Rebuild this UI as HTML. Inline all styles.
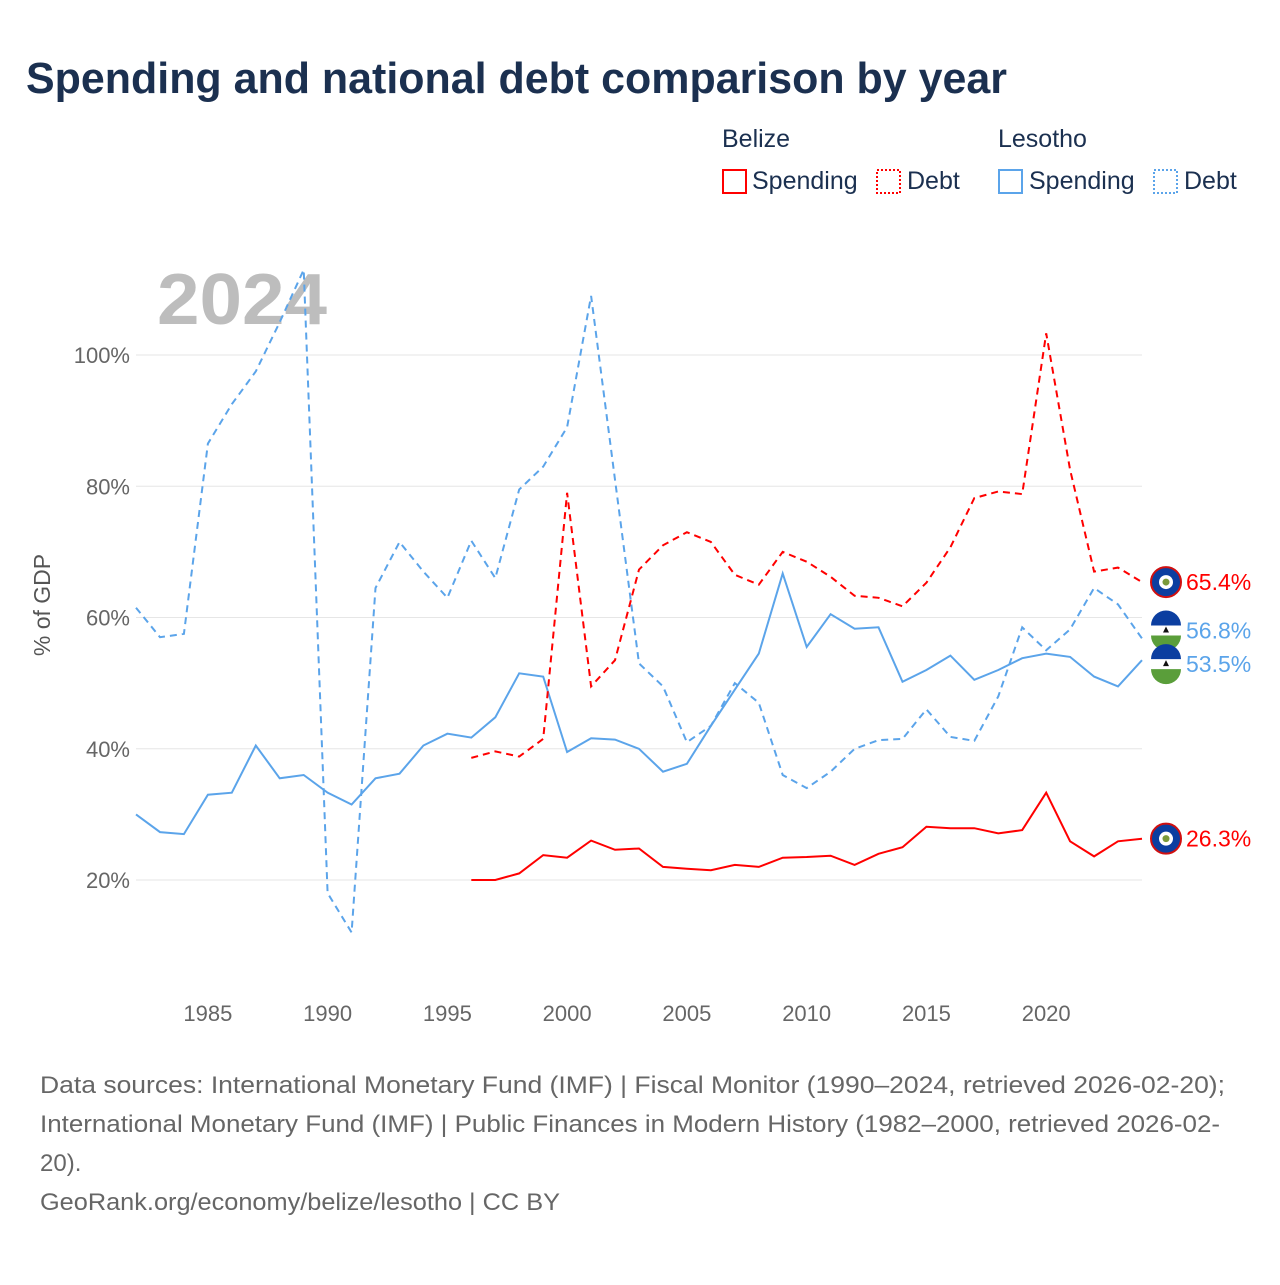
<!DOCTYPE html>
<html><head><meta charset="utf-8"><style>
body{margin:0;background:#fff;font-family:"Liberation Sans",sans-serif;}
svg text{font-family:"Liberation Sans",sans-serif;}
</style></head><body>
<svg id="chart" width="1280" height="1280" viewBox="0 0 1280 1280">
<text x="26" y="93" font-size="44" font-weight="bold" fill="#1b3050" textLength="981" lengthAdjust="spacingAndGlyphs">Spending and national debt comparison by year</text>
<g font-size="25" fill="#1b3050">
<text x="722" y="147">Belize</text>
<text x="998" y="147">Lesotho</text>
<g><rect x="723" y="170" width="23" height="23" fill="none" stroke="#f00" stroke-width="2"/><text x="752" y="189">Spending</text></g>
<g><rect x="877" y="170" width="23" height="23" fill="none" stroke="#f00" stroke-width="2" stroke-dasharray="2,2"/><text x="907" y="189">Debt</text></g>
<g><rect x="999" y="170" width="23" height="23" fill="none" stroke="#5ba4ea" stroke-width="2"/><text x="1029" y="189">Spending</text></g>
<g><rect x="1154" y="170" width="23" height="23" fill="none" stroke="#5ba4ea" stroke-width="2" stroke-dasharray="2,2"/><text x="1184" y="189">Debt</text></g>
</g>
<text x="157" y="324" font-size="72" font-weight="bold" fill="#bdbdbd" textLength="170" lengthAdjust="spacingAndGlyphs">2024</text>
<g id="grid"></g><g id="series"></g><g id="labels"></g>
<text transform="translate(50,605) rotate(-90)" text-anchor="middle" font-size="23" fill="#555">% of GDP</text>
<g font-size="24" fill="#666">
<text x="40" y="1093" textLength="1185" lengthAdjust="spacingAndGlyphs">Data sources: International Monetary Fund (IMF) | Fiscal Monitor (1990–2024, retrieved 2026-02-20);</text>
<text x="40" y="1132" textLength="1180" lengthAdjust="spacingAndGlyphs">International Monetary Fund (IMF) | Public Finances in Modern History (1982–2000, retrieved 2026-02-</text>
<text x="40" y="1171">20).</text>
<text x="40" y="1210" textLength="520" lengthAdjust="spacingAndGlyphs">GeoRank.org/economy/belize/lesotho | CC BY</text>
</g>
</svg>
<script>
const yTicks=[20,40,60,80,100];
const xTicks=[1985,1990,1995,2000,2005,2010,2015,2020];
const lesothoDebtStart=1982;
const lesothoDebt=[61.5,57,57.5,86.5,92.5,97.5,105,113,18,12,64.5,71.5,67,63,71.7,66,79.5,83,89,109,81,53,49.5,41,43.5,50,47,36,34,36.5,40,41.3,41.5,46,41.8,41.2,48,58.5,55,58.2,64.5,62,56.8];
const lesothoSpendStart=1982;
const lesothoSpend=[30,27.3,27,33,33.3,40.5,35.5,36,33.3,31.5,35.5,36.2,40.5,42.3,41.7,44.8,51.5,51,39.5,41.6,41.4,40,36.5,37.7,43.5,49,54.5,66.7,55.5,60.5,58.3,58.5,50.2,52,54.2,50.5,52,53.8,54.5,54,51,49.5,53.5];
const belizeDebtStart=1996;
const belizeDebt=[38.6,39.6,38.8,41.5,79,49.5,53.5,67.3,71,73,71.5,66.5,65,70,68.5,66.2,63.3,63,61.7,65.3,70.7,78.2,79.2,78.8,103.3,82.5,67,67.6,65.4];
const belizeSpendStart=1996;
const belizeSpend=[20,20,21,23.8,23.4,26,24.6,24.8,22,21.7,21.5,22.3,22,23.4,23.5,23.7,22.3,24,25,28.1,27.9,27.9,27.1,27.6,33.3,25.9,23.6,25.9,26.3];

const NS="http://www.w3.org/2000/svg";
const X=y=>136+(y-1982)*(1006/42);
const Y=v=>1011.25-v*6.5625;
function mk(t,a,p){const e=document.createElementNS(NS,t);for(const k in a)e.setAttribute(k,a[k]);p.appendChild(e);return e;}
const grid=document.getElementById('grid');
yTicks.forEach(v=>{
 const l=mk('line',{x1:136,x2:1142,y1:Y(v),y2:Y(v),stroke:'#e6e6e6','stroke-width':1},grid);
 
 
 const t=mk('text',{x:130,y:Y(v)+8,'text-anchor':'end','font-size':22,fill:'#666'},grid);t.textContent=v+'%';
 
 
});
xTicks.forEach(yr=>{
 const t=mk('text',{x:X(yr),y:1021,'text-anchor':'middle','font-size':22,fill:'#666'},grid);t.textContent=yr;
 
 
});
const ser=document.getElementById('series');
function line(arr,start,color,dash,name){
 const d=arr.map((v,i)=>(i?'L':'M')+X(start+i).toFixed(1)+','+Y(v).toFixed(1)).join('');
 const p=mk('path',{d:d,fill:'none',stroke:color,'stroke-width':2,'stroke-dasharray':dash},ser);
 
 
}
line(lesothoDebt,lesothoDebtStart,'#5ba4ea','7,5','line-lesotho-debt');
line(lesothoSpend,lesothoSpendStart,'#5ba4ea','none','line-lesotho-spending');
line(belizeDebt,belizeDebtStart,'#f00','7,5','line-belize-debt');
line(belizeSpend,belizeSpendStart,'#f00','none','line-belize-spending');
const lab=document.getElementById('labels');
function endLabel(arr,color,belize,name,dy){
 const v=arr[arr.length-1],y=Y(v)+(dy||0);
 const g=mk('g',{},lab);
 
 
 if(belize){mk('circle',{cx:1166,cy:y,r:15,fill:'#0b3ea0',stroke:'#d01010','stroke-width':2},g);mk('circle',{cx:1166,cy:y,r:7,fill:'#fff'},g);mk('circle',{cx:1166,cy:y,r:3.5,fill:'#7a9a3a'},g);}
 else{mk('circle',{cx:1166,cy:y,r:15,fill:'#fff'},g);mk('path',{d:`M1151,${y-5} A15,15 0 0 1 1181,${y-5} Z`,fill:'#0b3ea0'},g);mk('path',{d:`M1151,${y+5} L1181,${y+5} A15,15 0 0 1 1151,${y+5} Z`,fill:'#5a9e3a'},g);mk('path',{d:`M1163,${y+2} L1166,${y-4} L1169,${y+2} Z`,fill:'#111'},g);}
 const t=mk('text',{x:1186,y:y+8,'font-size':23,fill:color},g);t.textContent=v.toFixed(1)+'%';
}
endLabel(belizeDebt,'#f00',true,'end-label-belize-debt');
endLabel(lesothoDebt,'#5ba4ea',false,'end-label-lesotho-debt',-8);
endLabel(lesothoSpend,'#5ba4ea',false,'end-label-lesotho-spending',4);
endLabel(belizeSpend,'#f00',true,'end-label-belize-spending');
</script>
</body></html>
